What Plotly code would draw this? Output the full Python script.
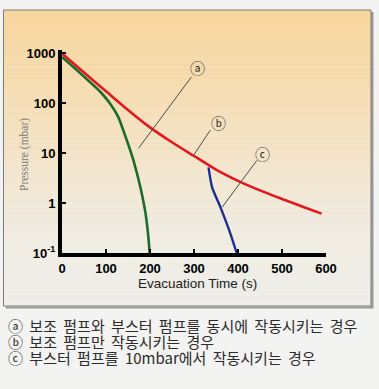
import math
import plotly.graph_objects as go

# ---------------- data ----------------
time_a = [0, 42, 87, 110, 128, 144, 163, 178, 190, 197, 199]
pressure_a = [850, 400, 171, 97, 53, 22, 6.9, 2.1, 0.61, 0.178, 0.1]

time_b = [0, 50, 100, 150, 200, 250, 300, 350, 400, 450, 500, 550, 590]
pressure_b = [1000, 415, 175, 74, 33, 16.6, 8.8, 4.7, 2.8, 1.8, 1.21, 0.83, 0.615]

time_c = [333, 341, 360, 383, 397]
pressure_c = [5.2, 2.1, 0.83, 0.24, 0.1]

x_ticks = [0, 100, 200, 300, 400, 500, 600]
y_ticks = [0.1, 1, 10, 100, 1000]
y_tick_labels = ["10<sup>-1</sup>", "1", "10", "100", "1000"]

curve_labels = ["ⓐ", "ⓑ", "ⓒ"]
label_pos = [(308, 512), (356, 42), (455, 10)]          # (time, pressure)
leader_lines = [((294, 337), (174, 12.6)),
                ((337, 29), (299, 9.1)),
                ((443, 7.2), (364, 0.83))]

notes = ["ⓐ 보조 펌프와 부스터 펌프를 동시에 작동시키는 경우",
         "ⓑ 보조 펌프만 작동시키는 경우",
         "ⓒ 부스터 펌프를 10mbar에서 작동시키는 경우"]

# ---------------- layout geometry ----------------
W, H = 379, 389
ML, MR, MT, MB = 62, 53, 50, 136
PW, PH = W - ML - MR, H - MT - MB


def px_x(px):
    return (px - ML) / PW


def px_y(py):
    return (H - MB - py) / PH


sp = " \u2009"

fig = go.Figure()

fig.add_trace(go.Scatter(x=time_b, y=pressure_b, mode="lines",
                         line=dict(color="#e3171d", width=2.6, shape="spline", smoothing=0.6),
                         hoverinfo="skip"))
fig.add_trace(go.Scatter(x=time_a, y=pressure_a, mode="lines",
                         line=dict(color="#1d6a2c", width=2.6, shape="spline", smoothing=0.6),
                         hoverinfo="skip"))
fig.add_trace(go.Scatter(x=time_c, y=pressure_c, mode="lines",
                         line=dict(color="#1e2d8f", width=2.4, shape="spline", smoothing=0.6),
                         hoverinfo="skip"))

shapes = []
# shadow of the framed panel
shapes.append(dict(type="rect", xref="paper", yref="paper",
                   x0=px_x(5.5), x1=px_x(373.5), y0=px_y(308.5), y1=px_y(12),
                   fillcolor="#9c9c9c", line=dict(width=0), layer="below"))
# gradient panel
stops = [(10, (247, 213, 158)), (80, (246, 220, 176)), (160, (243, 229, 203)),
         (230, (240, 236, 225)), (306, (239, 238, 234))]
top, bot = 10, 306
n = 60
for i in range(n):
    y0 = top + (bot - top) * i / n
    y1 = top + (bot - top) * (i + 1) / n
    ym = (y0 + y1) / 2
    for j in range(len(stops) - 1):
        if stops[j][0] <= ym <= stops[j + 1][0]:
            f = (ym - stops[j][0]) / (stops[j + 1][0] - stops[j][0])
            c = tuple(round(stops[j][1][k] + f * (stops[j + 1][1][k] - stops[j][1][k])) for k in range(3))
            break
    shapes.append(dict(type="rect", xref="paper", yref="paper",
                       x0=px_x(3.5), x1=px_x(371), y0=px_y(y1 + 0.6), y1=px_y(y0),
                       fillcolor="rgb(%d,%d,%d)" % c, line=dict(width=0), layer="below"))
shapes.append(dict(type="rect", xref="paper", yref="paper",
                   x0=px_x(3.5), x1=px_x(371), y0=px_y(306), y1=px_y(10),
                   fillcolor="rgba(0,0,0,0)", line=dict(color="#7d7d7d", width=1), layer="below"))

for (p0, p1) in leader_lines:
    shapes.append(dict(type="line", xref="x", yref="y",
                       x0=p0[0], y0=p0[1], x1=p1[0], y1=p1[1],
                       line=dict(color="#4a4a4a", width=1)))

annotations = []
for lab, (t, p) in zip(curve_labels, label_pos):
    annotations.append(dict(x=t, y=math.log10(p), xref="x", yref="y", text=lab,
                            xanchor="center", yanchor="middle",
                            showarrow=False, font=dict(family="Noto Sans CJK KR", size=15, color="#333333")))

annotations.append(dict(x=px_x(197), y=px_y(283), xref="paper", yref="paper",
                        xanchor="center", yanchor="middle",
                        text="Evacuation Time (s)", showarrow=False,
                        font=dict(family="Liberation Sans, Arial", size=13.5, color="#222222")))
annotations.append(dict(x=px_x(24), y=px_y(155), xref="paper", yref="paper",
                        xanchor="center", yanchor="middle",
                        text="Pressure (mbar)", showarrow=False, textangle=-90,
                        font=dict(family="Liberation Serif, serif", size=11.5, color="#7a7a7a")))

for k, line in enumerate(notes):
    annotations.append(dict(x=px_x(6), y=px_y(325 + 16 * k), xref="paper", yref="paper",
                            xanchor="left", yanchor="middle", text=line.replace(" ", sp), showarrow=False,
                            font=dict(family="Noto Sans CJK KR", size=15, color="#2b2b2b")))

fig.update_layout(
    width=W, height=H,
    margin=dict(l=ML, r=MR, t=MT, b=MB),
    paper_bgcolor="#f3f3f2",
    plot_bgcolor="rgba(0,0,0,0)",
    showlegend=False,
    shapes=shapes,
    annotations=annotations,
    xaxis=dict(range=[0, 600], tickvals=x_ticks, showgrid=False, zeroline=False,
               showline=True, linecolor="black", linewidth=4,
               ticks="inside", ticklen=4, tickwidth=1.5, tickcolor="black",
               tickfont=dict(family="Liberation Sans, Arial", size=13, color="black", weight="bold")),
    yaxis=dict(type="log", range=[-1, 3.07], tickvals=y_ticks, ticktext=y_tick_labels,
               showgrid=False, zeroline=False,
               showline=True, linecolor="black", linewidth=4,
               ticks="inside", ticklen=4, tickwidth=1.5, tickcolor="black",
               tickfont=dict(family="Liberation Sans, Arial", size=13, color="black", weight="bold")),
)

fig.write_html("out.html", config={"displayModeBar": False},
               post_script="document.body.style.margin='0';document.body.style.overflow='hidden';")
